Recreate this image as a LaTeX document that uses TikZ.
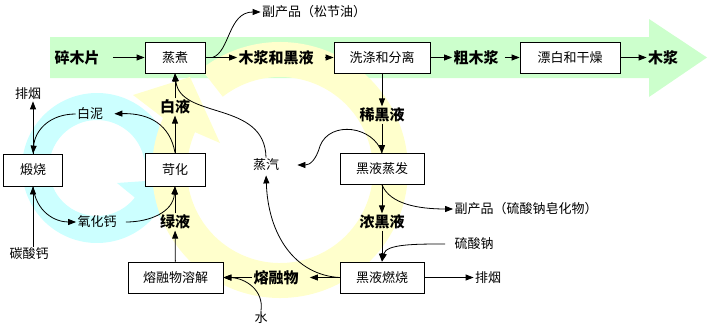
\documentclass[tikz,border=0pt]{standalone}
\usepackage{fontspec}
\setmainfont{Noto Sans CJK SC}
\usetikzlibrary{arrows.meta}
\definecolor{lvdi}{HTML}{CCFFCC}
\definecolor{huangdi}{HTML}{FFFFCC}
\definecolor{qingdi}{HTML}{CCFFFF}

\begin{document}
\begin{tikzpicture}[x=1pt, y=-1pt, line width=0.8pt,
        font=\fontsize{13}{15}\selectfont,
        proc/.style={draw, fill=white, minimum height=31pt, inner sep=2pt},
        flow/.style={font=\fontsize{15}{17}\selectfont\bfseries, inner sep=1pt},
        note/.style={inner sep=1pt},
        arr/.style={-{Triangle[length=8pt, width=6pt]}}]
        \useasboundingbox (0,0) rectangle (708,332);

        % 背景箭头
        \fill[lvdi] (50,37) -- (649,37) -- (649,19) -- (707,57.5) -- (649,97) -- (649,78) -- (50,78) -- cycle;
        \coordinate (qc) at (97,168);
        \fill[qingdi] ([shift={(350:75)}]qc) arc[start angle=350, end angle=38, radius=75]
            -- (170,225) -- (160,180) -- (117,183) -- ([shift={(38:48)}]qc)
            arc[start angle=38, end angle=350, radius=48] -- cycle;
        \coordinate (hc) at (280,170);
        \fill[huangdi] ([shift={(-128:128)}]hc) arc[start angle=-128, end angle=204, radius=128]
            -- (133,95) -- (190,77) -- (220,143) -- ([shift={(204:93)}]hc)
            arc[start angle=204, end angle=-128, radius=93] -- cycle;

        % 主流程
        \node[flow] (suimu) at (77,57.5) {碎木片};
        \node[proc, minimum width=60pt] (zhengzhu) at (175,57.5) {蒸煮};
        \node[flow] (mjhy) at (276,57.5) {木浆和黑液};
        \node[proc, minimum width=96pt] (xidi) at (382,57.5) {洗涤和分离};
        \node[flow] (cumj) at (476,57.5) {粗木浆};
        \node[proc, minimum width=100pt] (piaobai) at (570,57.5) {漂白和干燥};
        \node[flow] (mujiang) at (663,57.5) {木浆};
        \node[note] (songjie) at (314,12) {副产品（松节油）};

        \draw[arr, shorten <=12pt] (suimu) -- (zhengzhu);
        \draw[arr] (zhengzhu) -- (mjhy);
        \draw[arr, shorten <=10pt] (mjhy) -- (xidi);
        \draw[arr] (xidi) -- (cumj);
        \draw[arr, shorten <=5pt] (cumj) -- (piaobai);
        \draw[arr] (piaobai) -- (mujiang);
        \coordinate (zz1) at ([xshift=7pt]zhengzhu.east);
        \draw[arr] (zz1) .. controls (230,52) and (228,12) .. (songjie.west);

        % 黑液回收
        \node[flow] (xihy) at (382,115) {稀黑液};
        \node[proc, minimum width=84pt] (zhengfa) at (382,169) {黑液蒸发};
        \node[flow] (nonghy) at (382,222) {浓黑液};
        \node[proc, minimum width=84pt] (ranshao) at (382,277.5) {黑液燃烧};
        \node[flow] (rongrong) at (276,277.5) {熔融物};
        \node[proc, minimum width=95pt] (rongjie) at (175.5,277.5) {熔融物溶解};
        \node[note] (zhengqi) at (266,165) {蒸汽};
        \node[note] (zaohua) at (526,209) {副产品（硫酸钠皂化物）};
        \node[note] (liusuanna) at (474,244) {硫酸钠};
        \node[note] (paiyan2) at (488,277.5) {排烟};
        \node[note] (shui) at (261,318) {水};

        \draw[arr] (xidi) -- (xihy);
        \draw[arr] (xihy) -- (zhengfa);
        \draw[arr] (zhengfa) -- (nonghy);
        \draw[arr] (nonghy) -- (ranshao);
        \draw[arr] (ranshao) -- (paiyan2);
        \draw[arr, shorten >=10pt] (ranshao) -- (rongrong);
        \draw[arr] (rongrong) -- (rongjie);
        \draw[arr, shorten >=17pt] (zhengfa.north) .. controls (374,126) and (330,120) .. (320,146)
            .. controls (316,160) and (310,165) .. (zhengqi.east);
        \draw[arr] (zhengfa.south) .. controls (390,204) and (418,209) .. (zaohua.west);
        \draw[arr, shorten <=8pt] (liusuanna.west) .. controls (415,244) and (386,244) .. (ranshao.north);
        \draw[arr, shorten >=3pt] (ranshao.west) .. controls (295,275) and (268,235) .. (zhengqi.south);
        \draw[arr] (shui.north) .. controls (264,290) and (245,278) .. (rongjie.east);
        \draw[arr] (zhengqi.north) .. controls (265,100) and (180,120) .. (zhengzhu.south);

        % 苛化与煅烧
        \node[flow] (lvye) at (175,222) {绿液};
        \node[proc, minimum width=60pt, minimum height=33pt] (kehua) at (175,169.5) {苛化};
        \node[flow] (baiye) at (175,107) {白液};
        \node[proc, minimum width=59pt, minimum height=32pt] (duanshao) at (33,170) {煅烧};
        \node[note] (baini) at (90,114) {白泥};
        \node[note] (paiyan1) at (28,94) {排烟};
        \node[note] (yanghg) at (97,222) {氧化钙};
        \node[note] (tansg) at (29,254) {碳酸钙};

        \draw[arr] (rongjie) -- (lvye);
        \draw[arr] (lvye) -- (kehua);
        \draw[arr] (kehua) -- (baiye);
        \draw[arr] (baiye) -- (zhengzhu);
        \draw[arr, shorten >=10pt] (kehua.north) .. controls (170,125) and (150,113) .. (baini.east);
        \draw[arr] (baini.west) .. controls (50,114) and (35,130) .. (duanshao.north);
        \draw[arr] (duanshao) -- (paiyan1.south -| duanshao);
        \draw[arr] (tansg.north -| duanshao) -- (duanshao);
        \draw[arr] (duanshao.south) .. controls (36,212) and (55,222) .. (yanghg.west);
        \draw[arr, shorten <=8pt] (yanghg.east) .. controls (150,222) and (173,212) .. (kehua.south);
    \end{tikzpicture}
\end{document}
